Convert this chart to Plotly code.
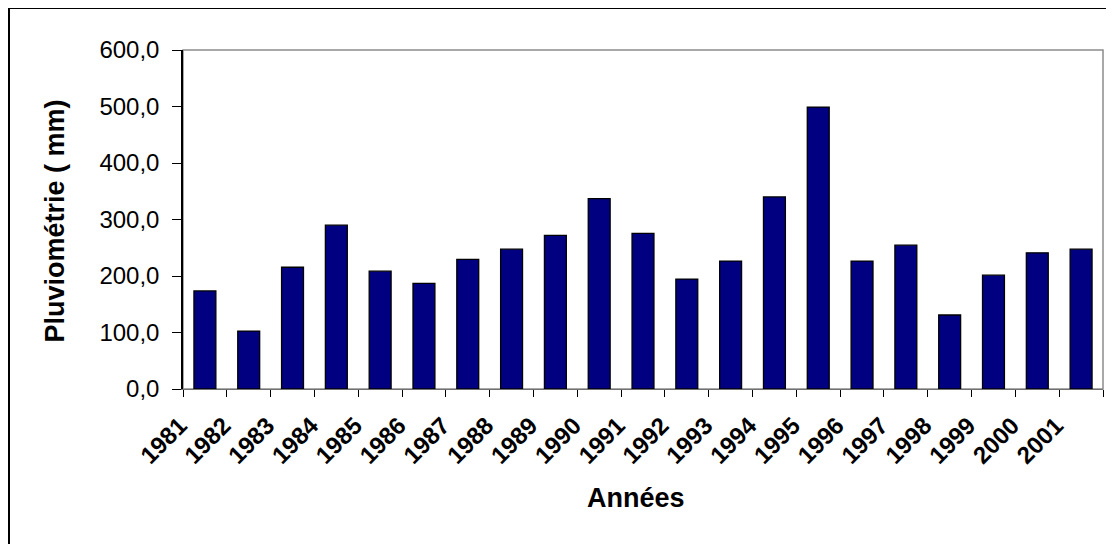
import plotly.graph_objects as go

years = ["1981", "1982", "1983", "1984", "1985", "1986", "1987", "1988", "1989", "1990", "1991",
         "1992", "1993", "1994", "1995", "1996", "1997", "1998", "1999", "2000", "2001"]
rain_mm = [173.5, 102.5, 215.5, 290.0, 208.5, 187.0, 229.5, 247.5, 272.0, 337.0, 275.5,
           194.5, 226.5, 340.0, 499.0, 226.5, 254.5, 131.0, 201.5, 241.0, 247.5]
y_ticks = [0, 100, 200, 300, 400, 500, 600]

# the page body has an 8px margin, figure coordinates are page - 8
W, H = 1106, 536
L, T = 175, 42
PLOT_RIGHT, PLOT_BOTTOM = 1095, 381
R, B = W - PLOT_RIGHT, H - PLOT_BOTTOM
pw, ph = W - L - R, H - T - B

def px_x(x):
    return (x - L) / pw

def px_y(y):
    return (PLOT_BOTTOM - y) / ph

FONT = "Arial, Liberation Sans, sans-serif"

fig = go.Figure(go.Bar(
    x=years, y=rain_mm,
    marker=dict(color="#000080", line=dict(color="black", width=1.3)),
    width=0.5,
))

fig.update_layout(
    width=W, height=H,
    margin=dict(l=L, r=R, t=T, b=B, pad=0),
    paper_bgcolor="white", plot_bgcolor="white",
    separators=", ",
    showlegend=False,
    font=dict(family=FONT, color="black"),
)

fig.update_xaxes(
    type="category",
    tickson="boundaries",
    ticks="outside", ticklen=7, tickcolor="black", tickwidth=1,
    showline=True, linecolor="#707070", linewidth=1.3,
    showgrid=False, zeroline=False,
    tickangle=-45,
    tickfont=dict(family=FONT, size=24, color="black", weight="bold"),
    ticklabelshift=-25, ticklabelstandoff=12,
)

fig.update_yaxes(
    range=[0, 600],
    tickvals=y_ticks,
    tickformat=".1f",
    ticks="outside", ticklen=9, tickcolor="black", tickwidth=1,
    showline=True, linecolor="black", linewidth=1.5,
    showgrid=False, zeroline=False,
    tickfont=dict(family=FONT, size=24, color="black"),
    ticklabelstandoff=8,
)

fig.update_layout(
    shapes=[
        dict(type="rect", xref="paper", yref="paper", x0=0, y0=0, x1=1, y1=1,
             line=dict(color="#8c8c8c", width=1.5), layer="below"),
        dict(type="rect", xref="paper", yref="paper",
             x0=px_x(1), y0=px_y(W), x1=px_x(W + 20), y1=px_y(0),
             line=dict(color="black", width=2), layer="below"),
    ],
    annotations=[
        dict(text="Années", xref="paper", yref="paper", x=px_x(628), y=px_y(490),
             xanchor="center", yanchor="middle", showarrow=False,
             font=dict(family=FONT, size=27, color="black", weight="bold")),
        dict(text="Pluviométrie ( mm)", xref="paper", yref="paper", x=px_x(46), y=px_y(213.5),
             xanchor="center", yanchor="middle", showarrow=False, textangle=-90,
             font=dict(family=FONT, size=27, color="black", weight="bold")),
    ],
)

fig.write_html("out.html")
